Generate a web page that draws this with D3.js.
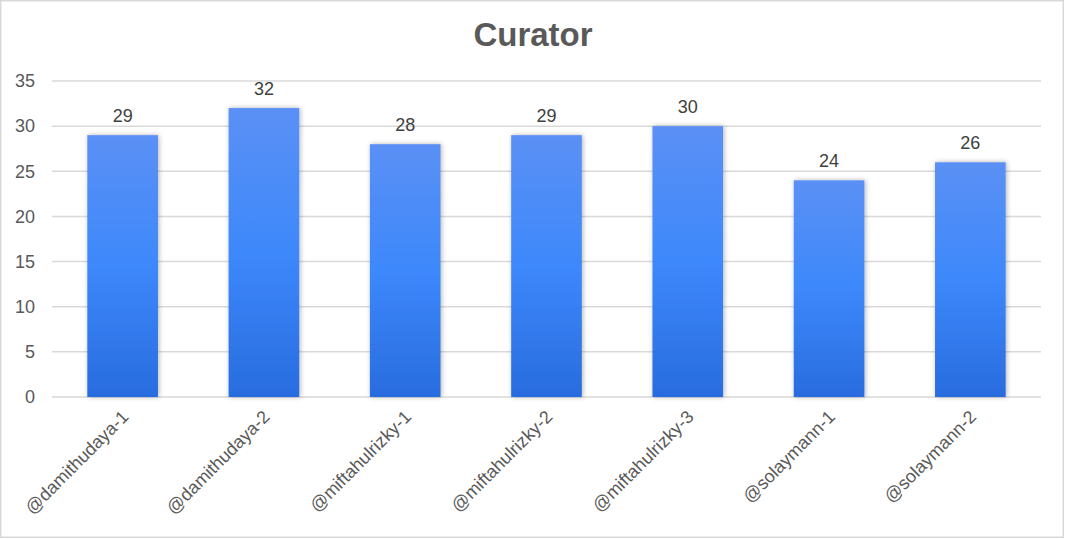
<!DOCTYPE html>
<html>
<head>
<meta charset="utf-8">
<script src="https://cdn.jsdelivr.net/npm/d3@7"></script>
<style>
  body { margin: 0; background: #fff; }
  #chart { width: 1065px; height: 539px; }
</style>
</head>
<body>
<div id="chart"></div>
<script>
// Curator bar chart

const categories = ["@damithudaya-1", "@damithudaya-2", "@miftahulrizky-1", "@miftahulrizky-2",
    "@miftahulrizky-3", "@solaymann-1", "@solaymann-2"];
const values = [29, 32, 28, 29, 30, 24, 26];
const yTicks = [0, 5, 10, 15, 20, 25, 30, 35];

const width = 1065, height = 539;
const margin = { top: 81, right: 24, bottom: 142, left: 52 };
const innerWidth = width - margin.left - margin.right;
const innerHeight = height - margin.top - margin.bottom;
const font = "'Liberation Sans', Arial, sans-serif";

const svg = d3.select("#chart").append("svg")
    .attr("width", width)
    .attr("height", height)
    .style("font-family", font);

// frame
svg.append("rect")
    .attr("x", 0.75).attr("y", 0.75)
    .attr("width", width - 2.5).attr("height", height - 2.5)
    .attr("fill", "#fff")
    .attr("stroke", "#d9d9d9")
    .attr("stroke-width", 1.5);

const defs = svg.append("defs");
const grad = defs.append("linearGradient")
    .attr("id", "barGrad")
    .attr("x1", 0).attr("y1", 0).attr("x2", 0).attr("y2", 1);
grad.append("stop").attr("offset", "0%").attr("stop-color", "#5b90f5");
grad.append("stop").attr("offset", "50%").attr("stop-color", "#3d88fb");
grad.append("stop").attr("offset", "100%").attr("stop-color", "#286cdf");

const shadow = defs.append("filter")
    .attr("id", "shadow")
    .attr("x", "-20%").attr("y", "-20%")
    .attr("width", "140%").attr("height", "140%");
shadow.append("feDropShadow")
    .attr("dx", 1).attr("dy", 0)
    .attr("stdDeviation", 2.5)
    .attr("flood-color", "#000")
    .attr("flood-opacity", 0.3);

// title
svg.append("text")
    .attr("x", 533)
    .attr("y", 46)
    .attr("text-anchor", "middle")
    .attr("fill", "#595959")
    .attr("font-size", "33px")
    .attr("font-weight", "bold")
    .text("Curator");

const g = svg.append("g")
    .attr("transform", `translate(${margin.left},${margin.top})`);

const x = d3.scaleBand()
    .domain(categories)
    .range([0, innerWidth])
    .paddingInner(0.5)
    .paddingOuter(0.25);

const y = d3.scaleLinear()
    .domain([0, 35])
    .range([innerHeight, 0]);

// gridlines
g.append("g")
    .selectAll("line")
    .data(yTicks)
    .enter()
    .append("line")
    .attr("x1", 0)
    .attr("x2", innerWidth)
    .attr("y1", d => y(d))
    .attr("y2", d => y(d))
    .attr("stroke", "#d9d9d9")
    .attr("stroke-width", 1.5);

// y axis labels
const yAxis = g.append("g")
    .call(d3.axisLeft(y).tickValues(yTicks).tickSize(0).tickPadding(17));
yAxis.select(".domain").remove();
yAxis.selectAll("text")
    .attr("fill", "#595959")
    .attr("font-size", "18px")
    .attr("font-family", font);

// bars
g.selectAll(".bar")
    .data(values)
    .enter()
    .append("rect")
    .attr("class", "bar")
    .attr("x", (d, i) => x(categories[i]))
    .attr("y", d => y(d))
    .attr("width", x.bandwidth())
    .attr("height", d => innerHeight - y(d))
    .attr("fill", "url(#barGrad)")
    .attr("filter", "url(#shadow)");

// value labels
g.selectAll(".val")
    .data(values)
    .enter()
    .append("text")
    .attr("class", "val")
    .attr("x", (d, i) => x(categories[i]) + x.bandwidth() / 2)
    .attr("y", d => y(d) - 13)
    .attr("text-anchor", "middle")
    .attr("fill", "#404040")
    .attr("font-size", "18px")
    .text(d => d);

// x axis labels, rotated
g.append("g")
    .selectAll("text")
    .data(categories)
    .enter()
    .append("text")
    .attr("transform", d => `translate(${x(d) + x.bandwidth() / 2 + 7},${innerHeight + 21}) rotate(-45)`)
    .attr("text-anchor", "end")
    .attr("fill", "#595959")
    .attr("font-size", "18px")
    .text(d => d);
</script>
</body>
</html>
